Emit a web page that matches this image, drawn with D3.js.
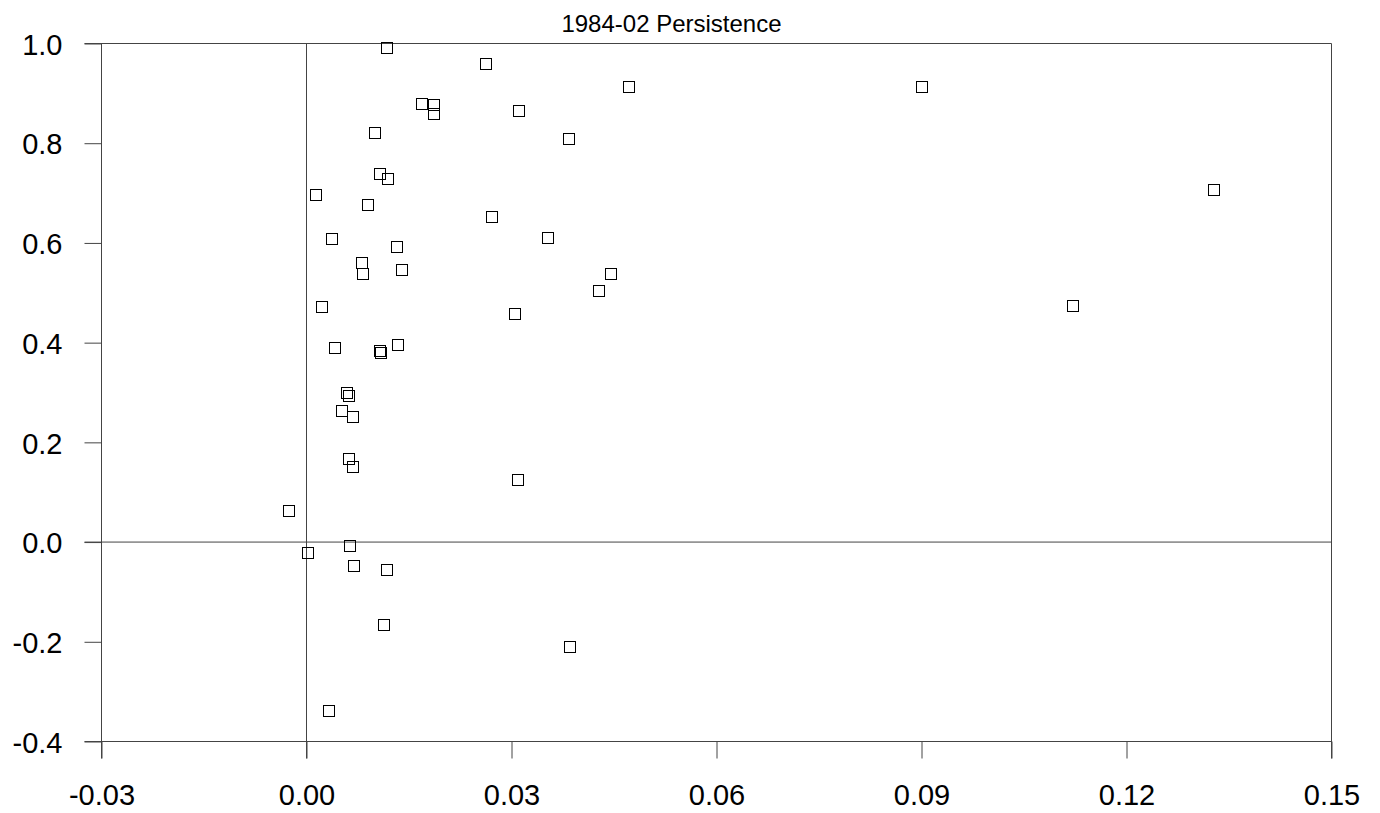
<!DOCTYPE html>
<html>
<head>
<meta charset="utf-8">
<script src="https://cdn.jsdelivr.net/npm/d3@7"></script>
<style>
  html, body { margin: 0; padding: 0; background: #fff; }
  svg { display: block; font-family: "Liberation Sans", Arial, sans-serif; }
</style>
</head>
<body>
<svg id="chart" width="1380" height="813"></svg>
<script>
// Scatter of persistence against return, one square per series
const xValues = [
  0.01181, 0.02634, 0.04716, 0.09009, 0.01693, 0.01863, 0.01873, 0.03117,
  0.00999, 0.03838, 0.13276, 0.01076, 0.01195, 0.00142, 0.00903, 0.02711,
  0.00380, 0.03527, 0.01327, 0.00815, 0.04453, 0.01397, 0.00831, 0.04287,
  0.00234, 0.11213, 0.03054, 0.00414, 0.01346, 0.01073, 0.01093, 0.00600,
  0.00619, 0.00517, 0.00683, 0.00625, 0.00677, 0.03092, -0.00253, 0.00025,
  0.00637, 0.00698, 0.01174, 0.01130, 0.03863, 0.00326
];
const yValues = [
  0.990, 0.959, 0.913, 0.913, 0.878, 0.876, 0.858, 0.864,
  0.821, 0.808, 0.707, 0.738, 0.728, 0.696, 0.677, 0.652,
  0.608, 0.610, 0.592, 0.559, 0.537, 0.545, 0.538, 0.503,
  0.471, 0.474, 0.458, 0.389, 0.395, 0.383, 0.379, 0.299,
  0.293, 0.262, 0.251, 0.167, 0.151, 0.125, 0.062, -0.021,
  -0.008, -0.047, -0.057, -0.166, -0.211, -0.339
];
const xTicks = [-0.03, 0.00, 0.03, 0.06, 0.09, 0.12, 0.15];
const yTicks = [-0.4, -0.2, 0.0, 0.2, 0.4, 0.6, 0.8, 1.0];
const xRefLines = [-0.03, 0.00, 0.15];
const yRefLines = [-0.4, 0.0, 1.0];
const titleText = "1984-02 Persistence";

const points = xValues.map((x, i) => ({ x, y: yValues[i] }));

const svg = d3.select("#chart");
const tickLen = 17;
const lineColor = "#444";
const fontStack = "'Liberation Sans', Arial, sans-serif";

// Plain hyphen for negative numbers
const fmt = p => d => d3.format(p)(d).replace("\u2212", "-");

const x = d3.scaleLinear().domain([-0.03, 0.15]).range([101.5, 1331.5]);
const y = d3.scaleLinear().domain([-0.4, 1.0]).range([741.5, 43.5]);

// Frame and zero lines, each running out past the plot by one tick length
svg.append("g").selectAll("line").data(xRefLines).join("line")
  .attr("x1", d => x(d)).attr("x2", d => x(d))
  .attr("y1", y(1.0)).attr("y2", y(-0.4) + tickLen)
  .attr("stroke", lineColor).attr("stroke-width", 1);

svg.append("g").selectAll("line").data(yRefLines).join("line")
  .attr("y1", d => y(d)).attr("y2", d => y(d))
  .attr("x1", x(-0.03) - tickLen).attr("x2", x(0.15))
  .attr("stroke", lineColor).attr("stroke-width", 1);

// Bottom axis
const gx = svg.append("g")
  .attr("transform", `translate(0,${y(-0.4)})`)
  .call(d3.axisBottom(x).tickValues(xTicks).tickFormat(fmt(".2f"))
    .tickSize(tickLen).tickSizeOuter(0));
gx.select(".domain").remove();
gx.selectAll(".tick line").attr("stroke", lineColor);
gx.selectAll(".tick text")
  .attr("y", 63).attr("dy", null)
  .attr("fill", "#000")
  .style("font-size", "29px")
  .style("font-family", fontStack);

// Left axis
const gy = svg.append("g")
  .attr("transform", `translate(${x(-0.03)},0)`)
  .call(d3.axisLeft(y).tickValues(yTicks).tickFormat(fmt(".1f"))
    .tickSize(tickLen).tickSizeOuter(0));
gy.select(".domain").remove();
gy.selectAll(".tick line").attr("stroke", lineColor);
gy.selectAll(".tick text")
  .attr("x", -39).attr("dy", "0.37em")
  .attr("fill", "#000")
  .style("font-size", "29px")
  .style("font-family", fontStack);

// Hollow square markers
const size = 11;
svg.append("g").selectAll("rect").data(points).join("rect")
  .attr("x", d => Math.round(x(d.x)) - 6 + 0.5)
  .attr("y", d => Math.round(y(d.y)) - 6 + 0.5)
  .attr("width", size).attr("height", size)
  .attr("fill", "none")
  .attr("stroke", "#000")
  .attr("stroke-width", 1);

// Title
svg.append("text")
  .attr("x", 671.5).attr("y", 31.5)
  .attr("text-anchor", "middle")
  .attr("fill", "#000")
  .style("font-size", "24px")
  .style("font-family", fontStack)
  .text(titleText);
</script>
</body>
</html>
